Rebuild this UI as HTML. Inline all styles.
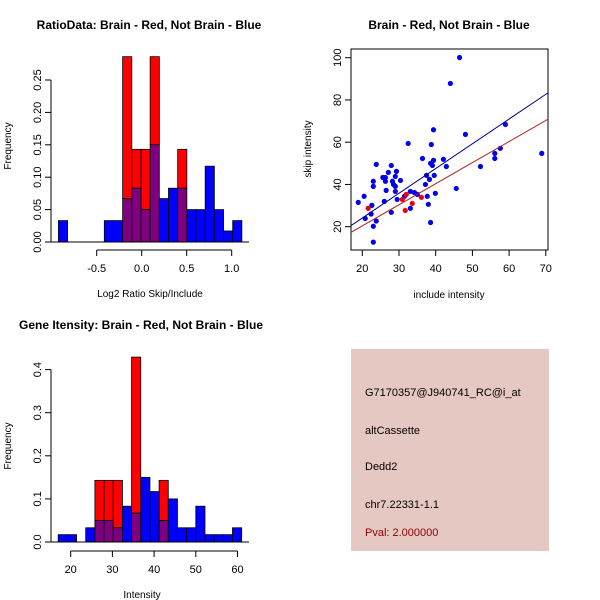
<!DOCTYPE html>
<html><head><meta charset="utf-8"><style>
html,body{margin:0;padding:0;background:#fff;}
svg{display:block;font-family:"Liberation Sans",sans-serif;}
</style></head><body>
<svg id="c" width="600" height="600" viewBox="0 0 600 600">
<rect x="351" y="349" width="198" height="202" fill="#e6c8c3"/>
<text x="365" y="396" font-size="11" fill="#000">G7170357@J940741_RC@i_at</text>
<text x="365" y="434" font-size="11" fill="#000">altCassette</text>
<text x="365" y="470" font-size="11" fill="#000">Dedd2</text>
<text x="365" y="508" font-size="11" fill="#000">chr7.22331-1.1</text>
<text x="365" y="536" font-size="11" fill="#8b0000">Pval: 2.000000</text>
</svg>
<script>
// ---- Ratio histogram data ----
const ratioBlue=[0.033,0,0,0,0,0.033,0.033,0.067,0.083,0.05,0.15,0.067,0.083,0.083,0.05,0.05,0.117,0.05,0.017,0.033];
const ratioRed=[0,0,0,0,0,0,0,0.286,0.143,0.143,0.286,0,0,0.143,0,0,0,0,0,0];
const ratioBreakStart=-0.925, ratioBreakWidth=0.1019;
const ratioXTicks=[-0.5,0,0.5,1.0];
const ratioXTickLabels=["-0.5","0.0","0.5","1.0"];
const ratioYTicks=[0,0.05,0.10,0.15,0.20,0.25];
const ratioYTickLabels=["0.00","0.05","0.10","0.15","0.20","0.25"];
// ---- Intensity histogram data ----
const intBlue=[0.017,0.017,0,0.033,0.05,0.05,0.033,0.083,0.067,0.15,0.117,0.05,0.1,0.033,0.033,0.083,0.017,0.017,0.017,0.033];
const intRed=[0,0,0,0,0.143,0.143,0.143,0,0.429,0,0,0.143,0,0,0,0,0,0,0,0];
const intBreakStart=17.0, intBreakWidth=2.2;
const intXTicks=[20,30,40,50,60];
const intXTickLabels=["20","30","40","50","60"];
const intYTicks=[0,0.1,0.2,0.3,0.4];
const intYTickLabels=["0.0","0.1","0.2","0.3","0.4"];
// ---- Scatter data ----
const blueX=[18.9,20.5,20.8,22.4,22.6,23,23,23.8,23,23.8,23,25.6,26.3,26.3,26,26.5,27.1,27.9,28.2,28.5,29,29.3,29,29,29.5,30.4,27.9,31.5,32.5,33.1,33.1,34.2,35,36.4,37.2,37.5,37.7,38,38.3,38.6,38.8,38.6,39.1,39.4,39.4,39.6,39.9,42.1,42.9,44,45.6,46.5,48.1,52.2,56.1,56.1,57.6,59,68.9];
const blueY=[31.5,34.4,23.9,26,30.1,41.5,39.1,49.5,20.2,22.7,12.7,43.3,43.3,41.5,32,37.2,45.7,49,41.5,40,43.8,46.2,39.1,36.7,32.9,41.9,26.8,34.4,59.4,36.7,28.7,36.2,35.3,52.3,40,44.3,34.4,30.6,42.4,22,58.9,50,49,51.4,65.9,44.3,35.8,51.9,48.5,87.8,38.1,100.1,63.7,48.5,52.3,54.7,57.1,68.4,54.7];
const redX=[21.6,30.9,31.7,32,33.6,36.1];
const redY=[28.7,32.9,27.7,35.3,31,33.9];
const blueFit=[0.7,1.171]; // intercept, slope
const redFit=[0.43,0.998];
const scXTicks=[20,30,40,50,60,70];
const scYTicks=[20,40,60,80,100];

const svg=document.getElementById('c');
const NS='http://www.w3.org/2000/svg';
function mk(tag,attrs,name,parent){const e=document.createElementNS(NS,tag);for(const k in attrs)e.setAttribute(k,attrs[k]);


(parent||svg).appendChild(e);return e;}
function txt(x,y,s,name,opts){const e=mk('text',Object.assign({x:x,y:y,'font-size':11,'text-anchor':'middle',fill:'#000'},opts||{}),name);e.textContent=s;return e;}

function hist(cfg){
  const g=mk('g',{},cfg.name);
  const sx=v=>cfg.x0+(v-cfg.xv0)*cfg.xs;
  const sy=v=>cfg.base-v*cfg.ys;
  for(let i=0;i<cfg.blue.length;i++){
    const l=sx(cfg.bs+i*cfg.bw), r=sx(cfg.bs+(i+1)*cfg.bw), b=cfg.blue[i], rd=cfg.red[i];
    const lo=Math.min(b,rd), hi=Math.max(b,rd);
    if(hi<=0)continue;
    if(hi>lo){mk('rect',{x:l,y:sy(hi),width:r-l,height:sy(lo)-sy(hi),fill:(rd>b?'#ff0000':'#0000ff'),stroke:'#000','stroke-width':0.8},'bar-'+(rd>b?'red':'blue')+'-'+i,g);}
    if(lo>0){mk('rect',{x:l,y:sy(lo),width:r-l,height:cfg.base-sy(lo),fill:'#7f007f',stroke:'#000','stroke-width':0.8},'bar-overlap-'+i,g);}
  }
  mk('line',{x1:cfg.yAxisX-1,x2:cfg.plotR,y1:cfg.base,y2:cfg.base,stroke:'#000'},'baseline',g);
  mk('line',{x1:cfg.yAxisX,x2:cfg.yAxisX,y1:sy(cfg.yt[0]),y2:sy(cfg.yt[cfg.yt.length-1]),stroke:'#000'},'y-axis',g);
  cfg.yt.forEach((v,i)=>{mk('line',{x1:cfg.yAxisX-6,x2:cfg.yAxisX,y1:sy(v),y2:sy(v),stroke:'#000'},'y-tick',g);
    txt(cfg.yAxisX-10,sy(v),cfg.ytl[i],'y-tick-label',{transform:`rotate(-90 ${cfg.yAxisX-10} ${sy(v)})`});});
  const xa=cfg.xAxisY;
  mk('line',{x1:sx(cfg.xt[0]),x2:sx(cfg.xt[cfg.xt.length-1]),y1:xa,y2:xa,stroke:'#000'},'x-axis',g);
  cfg.xt.forEach((v,i)=>{mk('line',{x1:sx(v),x2:sx(v),y1:xa,y2:xa+6,stroke:'#000'},'x-tick',g);txt(sx(v),xa+22,cfg.xtl[i],'x-tick-label');});
  txt(cfg.yAxisX+(cfg.plotR-cfg.yAxisX)/2+(cfg.xlOff||0),xa+47,cfg.xlab,'x-axis-title',{'font-size':10});
  txt(11,cfg.ylY,'Frequency','y-axis-title',{'font-size':10,transform:`rotate(-90 11 ${cfg.ylY})`});
  txt(cfg.titleX,cfg.titleY,cfg.title,'chart-title',{'font-size':12,'font-weight':'bold'});
}
hist({name:'ratio-histogram',blue:ratioBlue,red:ratioRed,bs:ratioBreakStart,bw:ratioBreakWidth,x0:141.7,xv0:0,xs:90,base:242,ys:648,
  yAxisX:51,plotR:249,yt:ratioYTicks,ytl:ratioYTickLabels,xt:ratioXTicks,xtl:ratioXTickLabels,xAxisY:250,xlab:'Log2 Ratio Skip/Include',xlOff:0,ylY:146,title:'RatioData: Brain - Red, Not Brain - Blue',titleX:149,titleY:29});
hist({name:'intensity-histogram',blue:intBlue,red:intRed,bs:intBreakStart,bw:intBreakWidth,x0:70.7,xv0:20,xs:4.17,base:542,ys:431,
  yAxisX:51,plotR:249,yt:intYTicks,ytl:intYTickLabels,xt:intXTicks,xtl:intXTickLabels,xAxisY:551,xlab:'Intensity',xlOff:-8,ylY:446,title:'Gene Itensity: Brain - Red, Not Brain - Blue',titleX:141,titleY:329});

(function(){
  const L=351,R=548,T=49,B=250;
  const sx=v=>362.3+(v-20)*3.67, sy=v=>226.7-(v-20)*2.1125;
  const g=mk('g',{},'scatter-plot');
  const clip=mk('clipPath',{id:'scclip'},'scatter-clip',g);
  mk('rect',{x:L,y:T,width:R-L,height:B-T},'clip-rect',clip);
  mk('rect',{x:L,y:T,width:R-L,height:B-T,fill:'none',stroke:'#000'},'plot-box',g);
  const pg=mk('g',{'clip-path':'url(#scclip)'},'scatter-marks',g);
  blueX.forEach((x,i)=>mk('circle',{cx:sx(x),cy:sy(blueY[i]),r:2.6,fill:'#0000ee'},'point-not-brain',pg));
  redX.forEach((x,i)=>mk('circle',{cx:sx(x),cy:sy(redY[i]),r:2.6,fill:'#ee0000'},'point-brain',pg));
  const x1=15,x2=75;
  mk('line',{x1:sx(x1),y1:sy(blueFit[0]+blueFit[1]*x1),x2:sx(x2),y2:sy(blueFit[0]+blueFit[1]*x2),stroke:'#00008b','stroke-width':1},'fit-line-not-brain',pg);
  mk('line',{x1:sx(x1),y1:sy(redFit[0]+redFit[1]*x1),x2:sx(x2),y2:sy(redFit[0]+redFit[1]*x2),stroke:'#b22222','stroke-width':1},'fit-line-brain',pg);
  scXTicks.forEach(v=>{mk('line',{x1:sx(v),x2:sx(v),y1:B,y2:B+6,stroke:'#000'},'x-tick',g);txt(sx(v),B+22,String(v),'x-tick-label');});
  scYTicks.forEach(v=>{mk('line',{x1:L-6,x2:L,y1:sy(v),y2:sy(v),stroke:'#000'},'y-tick',g);txt(L-10,sy(v),String(v),'y-tick-label',{transform:`rotate(-90 ${L-10} ${sy(v)})`});});
  txt(449,298,'include intensity','x-axis-title',{'font-size':10});
  txt(311,149,'skip intensity','y-axis-title',{'font-size':10,transform:'rotate(-90 311 149)'});
  txt(449,29,'Brain - Red, Not Brain - Blue','chart-title',{'font-size':12,'font-weight':'bold'});
})();
</script>
</body></html>
